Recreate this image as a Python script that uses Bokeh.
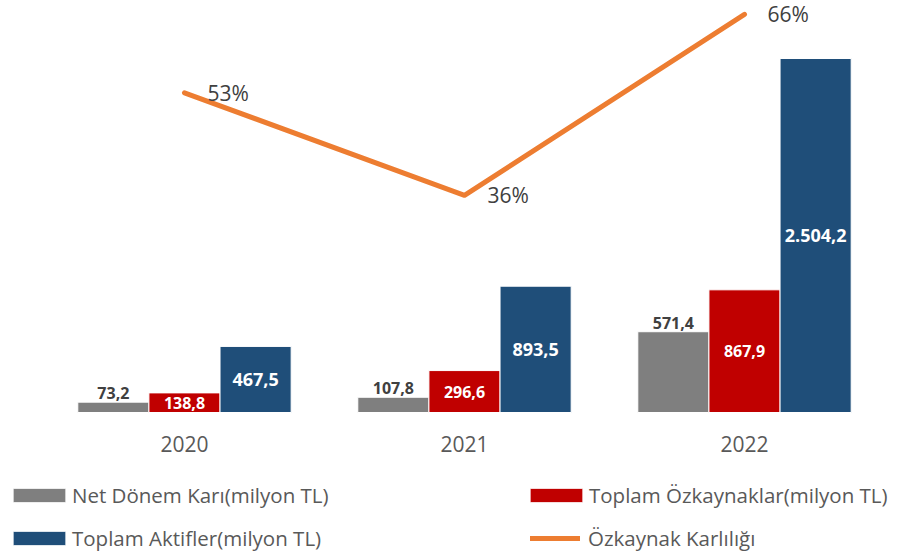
from bokeh.plotting import figure
from bokeh.models import Range1d, ColumnDataSource, Legend, LegendItem
from bokeh.transform import dodge
from bokeh.core.properties import value
from bokeh.embed import file_html
from bokeh.resources import INLINE

# ---- data ----
years = ["2020", "2021", "2022"]
net_kar = [73.2, 107.8, 571.4]          # Net Dönem Karı (milyon TL)
ozkaynak = [138.8, 296.6, 867.9]        # Toplam Özkaynaklar (milyon TL)
aktif = [467.5, 893.5, 2504.2]          # Toplam Aktifler (milyon TL)
karlilik = [53, 36, 66]                 # Özkaynak Karlılığı (%)
names = ["Net Dönem Karı(milyon TL)", "Toplam Özkaynaklar(milyon TL)",
         "Toplam Aktifler(milyon TL)", "Özkaynak Karlılığı"]

GREY, RED, BLUE, ORANGE = "#7f7f7f", "#c00000", "#1f4e79", "#ed7d31"
FONT = "Open Sans"


def tr(v):
    s = f"{v:,.1f}"
    return s.replace(",", "X").replace(".", ",").replace("X", ".")


src = ColumnDataSource(dict(
    xi=list(range(len(years))), year=years,
    net=net_kar, oz=ozkaynak, ak=aktif,
    zero=[0] * len(years),
    oz_mid=[v / 2 for v in ozkaynak], ak_mid=[v / 2 for v in aktif],
    net_lbl=[tr(v) for v in net_kar], oz_lbl=[tr(v) for v in ozkaynak],
    ak_lbl=[tr(v) for v in aktif],
    pct=karlilik, pct_lbl=[f"{v}%" for v in karlilik],
))

p = figure(width=898, height=555,
           x_range=Range1d(-0.657, 2.55), y_range=Range1d(-1011.6, 2914.6),
           x_axis_location=None, y_axis_location=None,
           output_backend="svg", toolbar_location=None,
           min_border=0)
p.extra_y_ranges = {"pct": Range1d(-23.7, 68.3)}
p.outline_line_color = None
p.grid.visible = False
p.background_fill_color = "white"
p.border_fill_color = "white"

W = 0.254
r_net = p.vbar(x=dodge("xi", -W), top="net", width=W, source=src,
               fill_color=GREY, line_color="white", line_width=1)
r_oz = p.vbar(x="xi", top="oz", width=W, source=src,
              fill_color=RED, line_color="white", line_width=1)
r_ak = p.vbar(x=dodge("xi", W), top="ak", width=W, source=src,
              fill_color=BLUE, line_color="white", line_width=1)
r_line = p.line(x="xi", y="pct", source=src, y_range_name="pct",
                line_color=ORANGE, line_width=5, line_cap="round", line_join="round")

# bar labels
p.text(x=dodge("xi", -W), y="net", text="net_lbl", source=src,
       text_align="center", text_baseline="alphabetic", y_offset=-9,
       text_font=value(FONT), text_font_style="bold", text_font_size="16px",
       text_color="#404040")
p.text(x="xi", y="oz_mid", text="oz_lbl", source=src,
       text_align="center", text_baseline="middle",
       text_font=value(FONT), text_font_style="bold", text_font_size="16px",
       text_color="white")
p.text(x=dodge("xi", W), y="ak_mid", text="ak_lbl", source=src,
       text_align="center", text_baseline="middle",
       text_font=value(FONT), text_font_style="bold", text_font_size="18px",
       text_color="white")
# line labels
p.text(x="xi", y="pct", text="pct_lbl", source=src, y_range_name="pct",
       x_offset=23, text_align="left", text_baseline="middle",
       text_font=value(FONT), text_font_size="21px", text_color="#404040")
# category (year) labels under the baseline
p.text(x="xi", y="zero", text="year", source=src,
       y_offset=31, text_align="center", text_baseline="middle",
       text_font=value(FONT), text_font_size="21px", text_color="#595959")


def make_legend(label, renderer, loc, gw, gh, standoff):
    lg = Legend(items=[LegendItem(label=label, renderers=[renderer])],
                location=loc, orientation="vertical",
                glyph_width=gw, glyph_height=gh, label_standoff=standoff,
                spacing=0, padding=0, margin=0, border_line_color=None,
                background_fill_alpha=0, label_text_font=FONT,
                label_text_font_size="20.5px", label_text_color="#595959")
    p.add_layout(lg, "center")


make_legend(names[0], r_net, (6, 46), 66, 18, 0)
make_legend(names[2], r_ak, (6, 3), 66, 18, 0)
make_legend(names[1], r_oz, (523, 46), 66, 18, 0)
make_legend(names[3], r_line, (530, 3), 50, 18, 8)

open("out.html", "w").write(file_html(p, INLINE))
